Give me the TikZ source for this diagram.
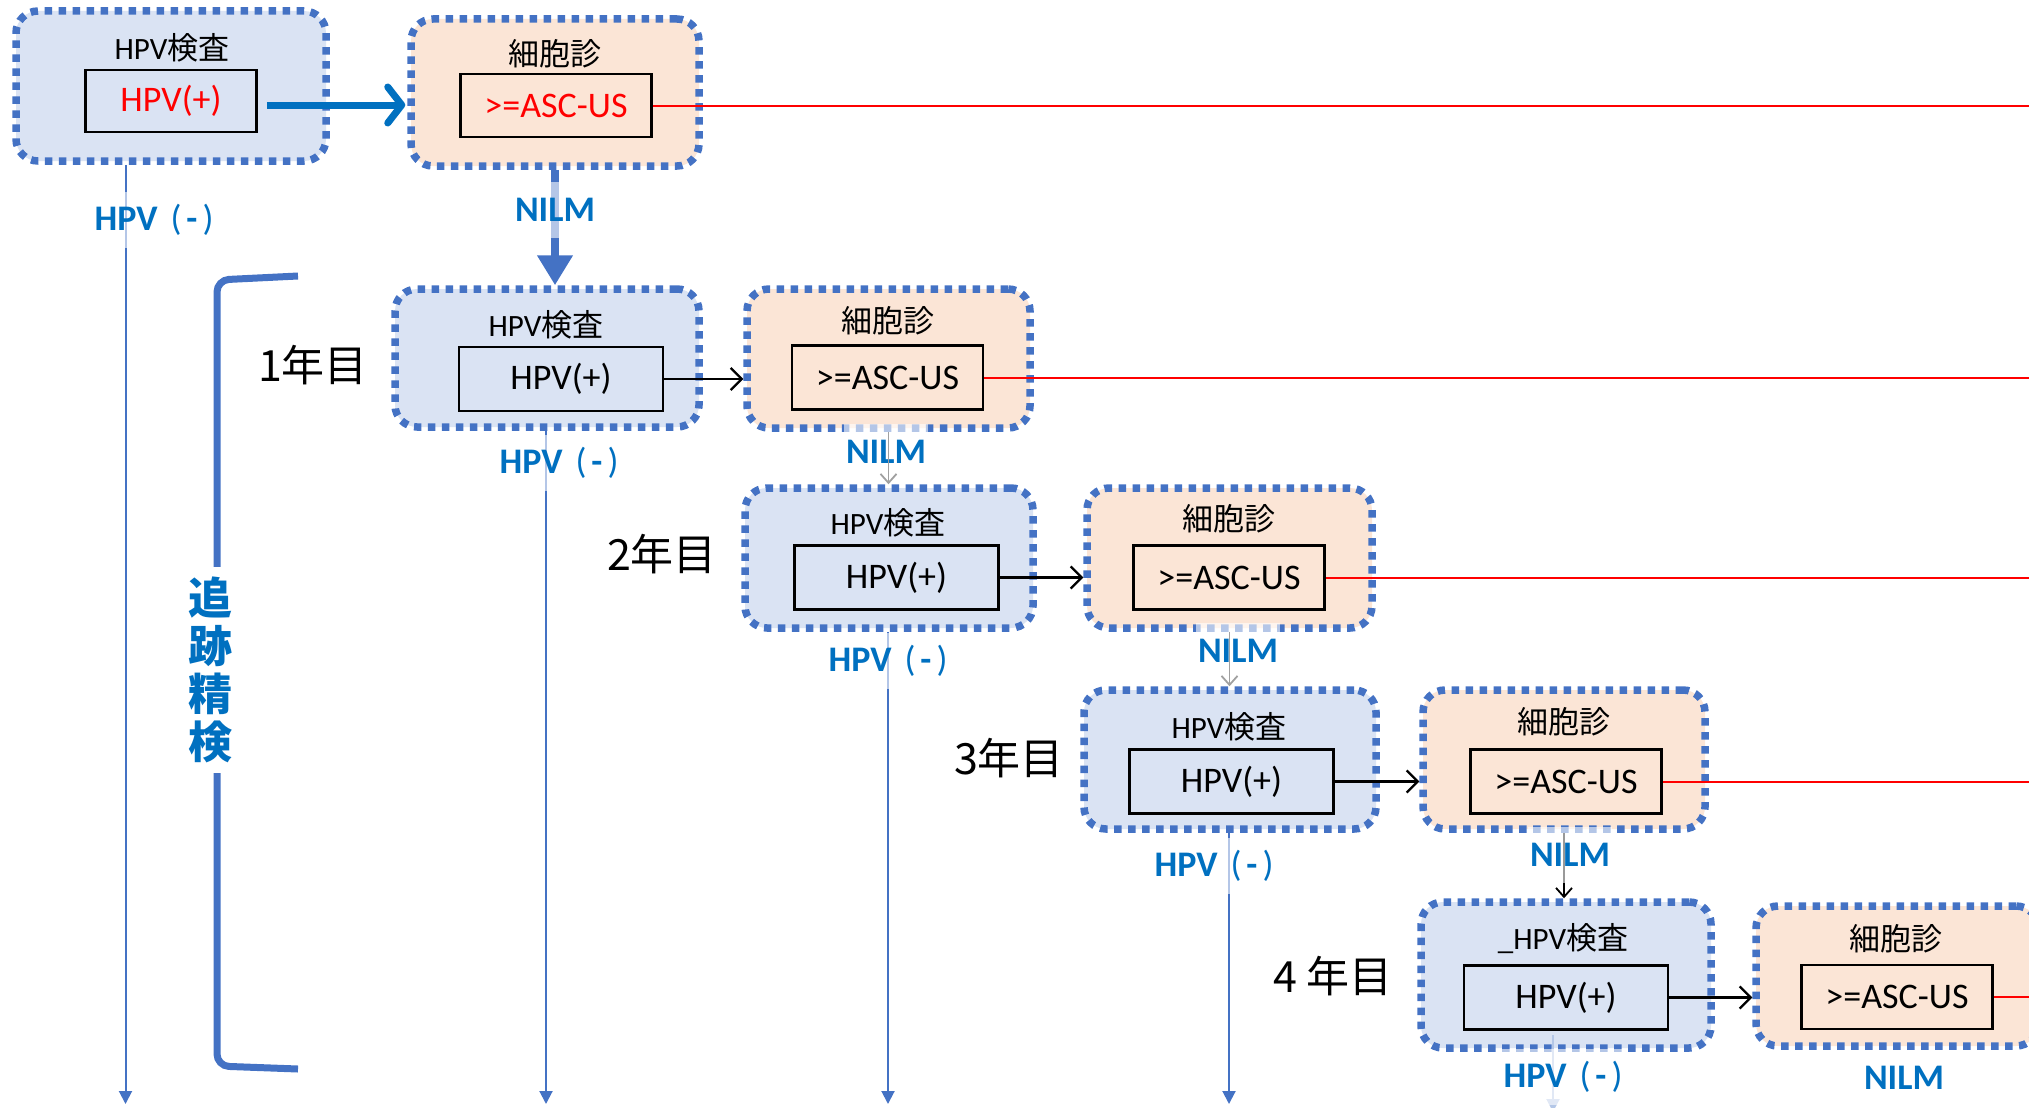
\documentclass[tikz,border=0pt]{standalone}
\usepackage{fontspec}
\setmainfont{Carlito}
\newfontfamily\jp{Noto Sans CJK JP}
\usetikzlibrary{arrows.meta}
\definecolor{bdr}{HTML}{4472C4}
\definecolor{fblue}{HTML}{DAE3F3}
\definecolor{fpeach}{HTML}{FBE5D6}
\definecolor{lbl}{HTML}{0070C0}
\definecolor{lightln}{HTML}{B4C7E7}
\definecolor{grayln}{HTML}{A0A0A0}
\newcommand\FSz[2]{\fontsize{#1}{#2}\selectfont}
\newcommand\NegLab{HPV\hspace{13pt}{\mdseries(}\hspace{5pt}-\hspace{5pt}{\mdseries)}}
\begin{document}
\begin{tikzpicture}[x=1pt,y=-1pt,
  outer/.style={draw=bdr, line width=7.5pt, dash pattern=on 7.5pt off 6.5pt, rounded corners=22pt, inner sep=0pt},
  hpvbox/.style={outer, fill=fblue},
  cytobox/.style={outer, fill=fpeach},
  ttl/.style={font=\FSz{31pt}{31pt}, inner sep=0pt},
  result/.style={draw=black, line width=2.5pt, inner sep=0pt, minimum width=204pt, minimum height=64pt, font=\FSz{36pt}{36pt}},
  ascres/.style={result, minimum width=191pt},
  lab/.style={text=lbl, font=\bfseries\FSz{36pt}{36pt}, fill=white, fill opacity=0.6, text opacity=1, inner xsep=2pt, inner ysep=0pt, minimum height=56pt},
  year/.style={font=\jp\FSz{43pt}{43pt}, inner sep=0pt},
  redln/.style={draw=red, line width=2pt},
  negln/.style={draw=bdr, line width=2pt, -{Triangle[length=13pt,width=13pt]}},
  posarr/.style={draw=black, line width=2.2pt, -{Straight Barb[length=11pt,width=22pt]}},
  nilmarr/.style={line width=1.8pt, -{Straight Barb[length=9pt,width=16pt]}}
]
\useasboundingbox (0,0) rectangle (2029,1108);

% bracket
\draw[bdr, line width=7pt, rounded corners=12pt] (298,276) -- (217,280) -- (217,1066) -- (298,1069);

% ---- boxes ----
\node[hpvbox, minimum width=310pt, minimum height=150pt] (b0) at (171,86) {};
\node[cytobox, minimum width=288pt, minimum height=147pt] (c0) at (555,92.5) {};
\node[hpvbox, minimum width=304pt, minimum height=138pt] (b1) at (547,358) {};
\node[cytobox, minimum width=283pt, minimum height=139pt] (c1) at (888.5,358.5) {};
\node[hpvbox, minimum width=288pt, minimum height=140pt] (b2) at (889,558) {};
\node[cytobox, minimum width=285pt, minimum height=140pt] (c2) at (1229.5,558) {};
\node[hpvbox, minimum width=292pt, minimum height=139pt] (b3) at (1230,759.5) {};
\node[cytobox, minimum width=282pt, minimum height=139pt] (c3) at (1564,759.5) {};
\node[hpvbox, minimum width=290pt, minimum height=146pt] (b4) at (1566,975) {};
\node[cytobox, minimum width=282pt, minimum height=140pt] (c4) at (1897,976) {};

% titles
\node[ttl] (t0) at (172,48) {HPV{\jp 検査}};
\node[ttl] (s0) at (555,54) {\jp 細胞診};
\node[ttl] (t1) at (546,325) {HPV{\jp 検査}};
\node[ttl] (s1) at (888,321) {\jp 細胞診};
\node[ttl] (t2) at (888,523) {HPV{\jp 検査}};
\node[ttl] (s2) at (1229,519) {\jp 細胞診};
\node[ttl] (t3) at (1229,727) {HPV{\jp 検査}};
\node[ttl] (s3) at (1564,722) {\jp 細胞診};
\node[ttl] (t4) at (1563,939) {\_HPV{\jp 検査}};
\node[ttl] (s4) at (1896,939) {\jp 細胞診};

% results
\node[result, minimum width=171pt, minimum height=62pt, text=red] (h0) at (171,101) {HPV(+)};
\node[ascres, minimum height=63pt, text=red] (a0) at (556,105.5) {>=ASC-US};
\node[result] (h1) at (561,379) {HPV(+)};
\node[ascres] (a1) at (887.5,377.5) {>=ASC-US};
\node[result] (h2) at (896.5,577.5) {HPV(+)};
\node[ascres] (a2) at (1229,577.5) {>=ASC-US};
\node[result] (h3) at (1231.5,781.5) {HPV(+)};
\node[ascres] (a3) at (1566,781.5) {>=ASC-US};
\node[result] (h4) at (1566,997.5) {HPV(+)};
\node[ascres] (a4) at (1897,997) {>=ASC-US};

% coordinates for free ends
\coordinate (rr) at (2029,0);
\coordinate (e0) at (125.5,1104);
\coordinate (e1) at (546,1104);
\coordinate (e2) at (888,1104);
\coordinate (e3) at (1229,1104);
\coordinate (e4) at (1553,1112);
\coordinate (e4s) at (1553,1035);

% red lines
\draw[redln] (a0.east) -- (a0.east -| rr);
\draw[redln] (a1.east) -- (a1.east -| rr);
\draw[redln] (a2.east) -- (a2.east -| rr);
\draw[redln] (a3.east) -- (a3.east -| rr);
\draw[redln] (a4.east) -- (a4.east -| rr);

% HPV(+) -> cytology
\draw[lbl, line width=7pt, -{Straight Barb[length=14pt,width=36pt,round]}, shorten <=9pt, shorten >=2pt] ([yshift=-4pt]h0.east) -- ([yshift=-4pt]h0.east -| c0.west);
\draw[posarr] (h1.east) -- (h1.east -| c1.west);
\draw[posarr] (h2.east) -- (h2.east -| c2.west);
\draw[posarr] (h3.east) -- (h3.east -| c3.west);
\draw[posarr] (h4.east) -- (h4.east -| c4.west);

% NILM arrows
\draw[bdr, line width=8pt, -{Triangle[length=30pt,width=34pt]}] (c0.south) -- (c0.south |- b1.north);
\draw[nilmarr, black] (c3.south) -- (c3.south |- b4.north);

% HPV(-) lines
\draw[negln] (e0 |- b0.south) -- (e0);
\draw[negln] (e1 |- b1.south) -- (e1);
\draw[negln] (e2 |- b2.south) -- (e2);
\draw[negln] (e3 |- b3.south) -- (e3);
\draw[negln, draw=lightln, -{Triangle[length=13pt,width=13pt,fill=lightln]}] (e4s) -- (e4);

% labels
\node[lab] (n0) at (154,220) {\NegLab};
\node[lab] (n1) at (559,463) {\NegLab};
\node[lab] (n2) at (888,661) {\NegLab};
\node[lab] (n3) at (1214,866) {\NegLab};
\node[lab] (n4) at (1563,1077) {\NegLab};
\node[lab] (m0) at (555,210) {NILM};
\node[lab] (m1) at (886,452) {NILM};
\node[lab] (m2) at (1238,651) {NILM};
\node[lab] (m3) at (1570,855) {NILM};
\node[lab] (m4) at (1904,1078) {NILM};

% gray NILM arrows (over their labels)
\draw[nilmarr, grayln] (c1.south) -- (c1.south |- b2.north);
\draw[nilmarr, grayln] (c2.south) -- (c2.south |- b3.north);

% years
\node[year] (y1) at (313,365) {1年目};
\node[year] (y2) at (662,554) {2年目};
\node[year] (y3) at (1009,758) {3年目};
\node[year] (y4) at (1333,976) {4 年目};

% bracket label
\node[fill=white, inner xsep=4pt, inner ysep=10pt, text=lbl, font=\jp\bfseries\FSz{44pt}{48pt}, align=center] (tsk) at (210,670) {追\\跡\\精\\検};
\end{tikzpicture}
\end{document}
